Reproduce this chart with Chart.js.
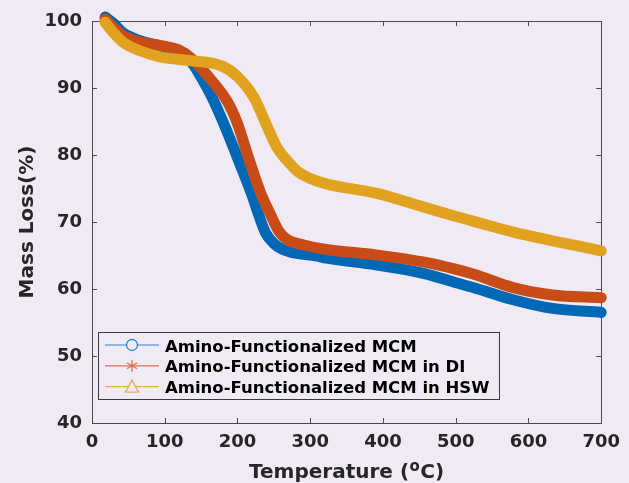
<!DOCTYPE html>
<html><head><meta charset="utf-8">
<style>html,body{margin:0;padding:0;background:#efeaf4;}#wrap{width:629px;height:483px;}</style>
<script src="https://cdn.jsdelivr.net/npm/chart.js@4/dist/chart.umd.min.js"></script>
</head><body><div id="wrap"><canvas id="c" width="629" height="483"></canvas></div>
<script>
const xTicks = [0, 100, 200, 300, 400, 500, 600, 700];
const yTicks = [40, 50, 60, 70, 80, 90, 100];
const seriesLabels = ["Amino-Functionalized MCM", "Amino-Functionalized MCM in DI", "Amino-Functionalized MCM in HSW"];
const xTitle = ["Temperature (", "o", "C)"];
const yTitle = "Mass Loss(%)";

const mcmTemp = [18, 30, 43, 65, 92, 119, 137, 150, 165, 183, 201, 219, 230, 239, 250, 262, 273, 309, 322, 390, 457, 498, 525, 579, 633, 700];
const mcmMass = [100.6, 99.6, 98.2, 97.1, 96.3, 95.4, 93.8, 91.6, 88.6, 84.2, 79.3, 74.3, 70.8, 68.3, 66.8, 65.9, 65.5, 64.9, 64.6, 63.6, 62.3, 61.0, 60.2, 58.4, 57.1, 56.5];

const diTemp = [18, 30, 43, 65, 92, 119, 137, 160, 187, 200, 216, 232, 246, 257, 268, 290, 322, 390, 457, 498, 525, 579, 633, 700];
const diMass = [100.3, 99.0, 97.8, 96.9, 96.4, 95.7, 94.4, 91.7, 87.8, 84.7, 79.3, 74.3, 71.0, 68.6, 67.4, 66.6, 65.9, 65.1, 64.0, 63.0, 62.2, 60.2, 59.1, 58.7];

const hswTemp = [18, 30, 43, 65, 92, 133, 178, 200, 223, 241, 255, 268, 282, 300, 322, 390, 457, 498, 525, 579, 633, 700];
const hswMass = [99.8, 98.2, 96.8, 95.6, 94.7, 94.1, 93.3, 91.7, 88.5, 84.2, 81.0, 79.2, 77.6, 76.5, 75.7, 74.3, 72.2, 70.9, 70.1, 68.5, 67.2, 65.7];

const colors = ["#0068b4", "#c94c18", "#e1a21f"];
const legendColors = ["rgba(30,120,200,0.9)", "rgba(215,95,55,0.85)", "rgba(230,170,50,0.9)"];
const BG = "#efeaf4";
const INK = "#262626";
const FONT = "'DejaVu Sans', sans-serif";

function pts(t, m) { return t.map((v, i) => ({x: v, y: m[i]})); }

const frame = {
  id: 'frame',
  beforeDraw(chart) {
    const ctx = chart.ctx;
    ctx.save(); ctx.fillStyle = BG; ctx.fillRect(0, 0, chart.width, chart.height); ctx.restore();
  },
  beforeDatasetsDraw(chart) {
    const {ctx, chartArea: a, scales} = chart;
    ctx.save();
    ctx.strokeStyle = "#4a4a4a"; ctx.lineWidth = 1;
    ctx.strokeRect(Math.round(a.left) + 0.5, Math.round(a.top) + 0.5, Math.round(a.right - a.left), Math.round(a.bottom - a.top));
    const L = 5;
    ctx.beginPath();
    scales.x.ticks.forEach(t => {
      const px = Math.round(scales.x.getPixelForValue(t.value)) + 0.5;
      ctx.moveTo(px, a.bottom); ctx.lineTo(px, a.bottom - L);
      ctx.moveTo(px, a.top); ctx.lineTo(px, a.top + L);
    });
    scales.y.ticks.forEach(t => {
      const py = Math.round(scales.y.getPixelForValue(t.value)) + 0.5;
      ctx.moveTo(a.left, py); ctx.lineTo(a.left + L, py);
      ctx.moveTo(a.right, py); ctx.lineTo(a.right - L, py);
    });
    ctx.stroke();
    ctx.restore();
  },
  afterDraw(chart) {
    const {ctx, chartArea: a} = chart;
    ctx.save();
    ctx.fillStyle = INK;
    ctx.font = "bold 20px " + FONT;
    ctx.translate(33, (a.top + a.bottom) / 2);
    ctx.rotate(-Math.PI / 2);
    ctx.textAlign = "center"; ctx.textBaseline = "alphabetic";
    ctx.fillText(yTitle, 0, 0);
    ctx.restore();
    ctx.save();
    ctx.fillStyle = INK;
    ctx.textBaseline = "alphabetic";
    const big = "bold 20px " + FONT, small = "bold 15px " + FONT;
    ctx.font = big; const w1 = ctx.measureText(xTitle[0]).width; const w3 = ctx.measureText(xTitle[2]).width;
    ctx.font = small; const w2 = ctx.measureText(xTitle[1]).width + 1;
    const total = w1 + w2 + w3;
    let x0 = (a.left + a.right) / 2 - total / 2;
    const base = 478;
    ctx.font = big; ctx.fillText(xTitle[0], x0, base);
    ctx.font = small; ctx.fillText(xTitle[1], x0 + w1 + 0.5, base - 7);
    ctx.font = big; ctx.fillText(xTitle[2], x0 + w1 + w2, base);
    ctx.restore();
    ctx.save();
    const bx = 98.5, by = 332.5, bw = 401, bh = 67;
    ctx.fillStyle = BG; ctx.fillRect(bx, by, bw, bh);
    ctx.strokeStyle = "#3a3a3a"; ctx.lineWidth = 1; ctx.strokeRect(bx, by, bw, bh);
    ctx.font = "bold 16.5px " + FONT;
    ctx.textBaseline = "alphabetic"; ctx.textAlign = "left";
    chart.data.datasets.forEach((ds, i) => {
      const base = 351.5 + i * 20.8;
      const cy = base - 6.5;
      ctx.strokeStyle = legendColors[i]; ctx.lineWidth = 1.2;
      ctx.beginPath(); ctx.moveTo(105, cy); ctx.lineTo(159, cy); ctx.stroke();
      const mx = 132;
      ctx.lineWidth = 1.3;
      if (i === 0) {
        ctx.fillStyle = BG; ctx.beginPath(); ctx.arc(mx, cy, 5.5, 0, Math.PI * 2); ctx.fill(); ctx.stroke();
      } else if (i === 1) {
        ctx.beginPath();
        const r = 6;
        ctx.moveTo(mx, cy - r); ctx.lineTo(mx, cy + r);
        ctx.moveTo(mx - r * 0.87, cy - r * 0.5); ctx.lineTo(mx + r * 0.87, cy + r * 0.5);
        ctx.moveTo(mx - r * 0.87, cy + r * 0.5); ctx.lineTo(mx + r * 0.87, cy - r * 0.5);
        ctx.stroke();
      } else {
        ctx.fillStyle = BG; ctx.beginPath();
        ctx.moveTo(mx, cy - 6.5); ctx.lineTo(mx + 6.5, cy + 5.5); ctx.lineTo(mx - 6.5, cy + 5.5); ctx.closePath();
        ctx.fill(); ctx.stroke();
      }
      ctx.fillStyle = "#000";
      ctx.fillText(ds.label, 165, base);
    });
    ctx.restore();
  }
};

new Chart(document.getElementById('c'), {
  type: 'line',
  data: {
    datasets: [
      {label: seriesLabels[0], data: pts(mcmTemp, mcmMass), borderColor: colors[0], order: 2},
      {label: seriesLabels[1], data: pts(diTemp, diMass), borderColor: colors[1], order: 1},
      {label: seriesLabels[2], data: pts(hswTemp, hswMass), borderColor: colors[2], order: 0}
    ].map(d => Object.assign(d, {borderWidth: 11, pointRadius: 0, cubicInterpolationMode: 'monotone', borderCapStyle: 'round', borderJoinStyle: 'round', fill: false, clip: false}))
  },
  options: {
    responsive: false, animation: false, devicePixelRatio: 1,
    layout: {padding: {left: 0, right: 21, top: 21, bottom: 0}},
    plugins: {legend: {display: false}, tooltip: {enabled: false}},
    scales: {
      x: {
        type: 'linear', min: 0, max: 700,
        afterBuildTicks: s => { s.ticks = xTicks.map(v => ({value: v})); },
        afterFit: s => { s.height = 60; },
        grid: {display: false, drawTicks: false}, border: {display: false},
        ticks: {color: INK, font: {family: FONT, size: 18, weight: 'bold'}, padding: 9, autoSkip: false, maxRotation: 0}
      },
      y: {
        type: 'linear', min: 40, max: 100,
        afterBuildTicks: s => { s.ticks = yTicks.map(v => ({value: v})); },
        afterFit: s => { s.width = 92; },
        grid: {display: false, drawTicks: false}, border: {display: false},
        ticks: {color: INK, font: {family: FONT, size: 18, weight: 'bold'}, padding: 10, autoSkip: false}
      }
    }
  },
  plugins: [frame]
});
</script>
</body></html>
